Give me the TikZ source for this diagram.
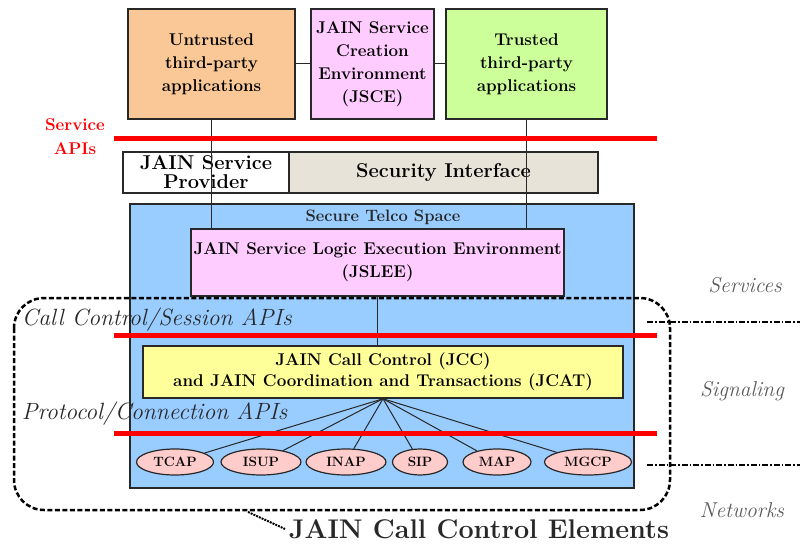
\documentclass[tikz,border=0pt]{standalone}
\usepackage{fontspec}
\usetikzlibrary{shapes.geometric}
\definecolor{peach}{RGB}{250,200,150}
\definecolor{lilac}{RGB}{255,204,255}
\definecolor{lime}{RGB}{204,255,153}
\definecolor{sky}{RGB}{153,204,255}
\definecolor{lemon}{RGB}{255,255,153}
\definecolor{rose}{RGB}{255,204,204}
\definecolor{stone}{RGB}{232,227,216}
\definecolor{ink}{RGB}{40,40,40}
\definecolor{layer}{RGB}{90,90,90}

\begin{document}
\begin{tikzpicture}[x=1pt,y=-1pt,line width=1.2pt,
  box/.style={rectangle,draw=ink,line width=1.5pt,align=center,inner sep=0pt,
    font=\fontsize{17}{23}\selectfont\bfseries},
  proto/.style={ellipse,draw=ink,line width=1.2pt,fill=rose,inner sep=0pt,minimum height=26pt,
    font=\fontsize{13.5}{16}\selectfont\bfseries},
  apiline/.style={red,line width=5pt},
  apitext/.style={anchor=west,text=ink,font=\fontsize{23.5}{26}\selectfont\itshape},
  layertext/.style={text=layer,font=\fontsize{21.5}{24}\selectfont\itshape},
  region/.style={dashed,line width=2.5pt,dash pattern=on 5pt off 2.5pt,rounded corners=30pt},
  split/.style={line width=1.8pt,dash pattern=on 6pt off 2pt on 1.5pt off 2pt},
  link/.style={draw=ink,line width=1pt}]
  \useasboundingbox (0,0) rectangle (800,548);

  % secure telco space
  \node[box,fill=sky,minimum width=504pt,minimum height=284pt] (telco) at (382,346) {};
  \node[font=\fontsize{16.5}{20}\selectfont\bfseries,text=ink] (telcolabel) at (383,217) {Secure Telco Space};

  % applications
  \node[box,fill=peach,minimum width=167pt,minimum height=110pt] (ut) at (211.5,64) {Untrusted\\third-party\\applications};
  \node[box,fill=lilac,minimum width=123pt,minimum height=110pt] (jsce) at (372.5,64) {JAIN Service\\Creation\\Environment\\(JSCE)};
  \node[box,fill=lime,minimum width=161pt,minimum height=110pt] (tr) at (526.5,64) {Trusted\\third-party\\applications};

  \node[box,fill=white,minimum width=166pt,minimum height=41pt,
    font=\fontsize{20}{19}\selectfont\bfseries] (prov) at (206,172.5) {JAIN Service\\Provider};
  \node[box,fill=stone,minimum width=309pt,minimum height=41pt,
    font=\fontsize{20}{24}\selectfont\bfseries] (sec) at (443.5,172.5) {Security Interface};

  \node[box,fill=lilac,minimum width=373pt,minimum height=67pt] (jslee) at (377.5,262.5)
    {JAIN Service Logic Execution Environment\\(JSLEE)};
  \node[box,fill=lemon,minimum width=480pt,minimum height=52pt,
    font=\fontsize{17}{21}\selectfont\bfseries] (jcc) at (383,372)
    {JAIN Call Control (JCC)\\and JAIN Coordination and Transactions (JCAT)};

  % protocols
  \node[proto,minimum width=77pt] (tcap) at (175,462) {TCAP};
  \node[proto,minimum width=80pt] (isup) at (261,462) {ISUP};
  \node[proto,minimum width=80pt] (inap) at (346,462) {INAP};
  \node[proto,minimum width=55pt] (sip) at (420,462) {SIP};
  \node[proto,minimum width=68pt] (map) at (497,462) {MAP};
  \node[proto,minimum width=87pt] (mgcp) at (588,462) {MGCP};

  \path[link]
    (ut.east) edge (jsce.west)
    (jsce.east) edge (tr.west)
    (ut.south) edge (ut.south |- jslee.north)
    (tr.south) edge (tr.south |- jslee.north)
    (jslee.south) edge (jslee.south |- jcc.north);
  \foreach \p in {tcap,isup,inap,sip,map,mgcp}
    \draw[link] (jcc.south) -- (\p);

  % API levels
  \draw[apiline] (114,139) -- (657,139);
  \draw[apiline] (114,335) -- (657,335);
  \draw[apiline] (114,433) -- (657,433);
  \node[text=red,align=center,font=\fontsize{17}{24}\selectfont\bfseries] (servapi) at (75,137) {Service\\APIs};
  \node[apitext] (ccapi) at (18,320) {Call Control/Session APIs};
  \node[apitext] (pcapi) at (18,414) {Protocol/Connection APIs};

  % call control elements
  \draw[region] (14,298) rectangle (670,510);
  \node[font=\fontsize{27}{34}\selectfont\bfseries,text=ink] (cce) at (479,529) {JAIN Call Control Elements};
  \coordinate (tail) at (248,512);
  \draw[densely dotted,line width=2pt] (tail) -- (cce.west);

  % layers
  \draw[split] (647,322) -- (800,322);
  \draw[split] (647,465) -- (800,465);
  \node[layertext] (services) at (745,285) {Services};
  \node[layertext] (signaling) at (742,391) {Signaling};
  \node[layertext] (networks) at (742,510) {Networks};
\end{tikzpicture}
\end{document}
